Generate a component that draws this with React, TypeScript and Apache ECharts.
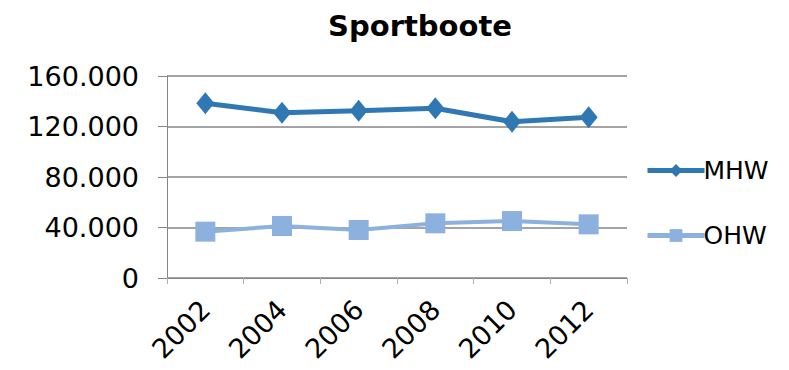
import React, { useEffect, useRef } from "react";
import * as echarts from "echarts";

const years = ["2002", "2004", "2006", "2008", "2010", "2012"];
const mhw = [138400, 130900, 132500, 134400, 123800, 127300];
const ohw = [36700, 41200, 38000, 43300, 45100, 42500];
const yTicks = { min: 0, max: 160000, interval: 40000 };

const FONT = "'DejaVu Sans', Verdana, sans-serif";
const MHW_COLOR = "#2f78b3";
const OHW_COLOR = "#8db1de";

const fmt = (v: number) =>
  v === 0 ? "0" : String(v).replace(/\B(?=(\d{3})+(?!\d))/g, ".");

export default function App() {
  const ref = useRef<HTMLDivElement>(null);

  useEffect(() => {
    if (!ref.current) return;
    const chart = echarts.init(ref.current, undefined, { renderer: "svg" });
    chart.setOption({
      animation: false,
      backgroundColor: "#ffffff",
      title: {
        text: "Sportboote",
        left: 415,
        top: 6,
        textAlign: "center",
        textStyle: { fontFamily: FONT, fontWeight: "bold", fontSize: 29, color: "#000" },
      },
      grid: { left: 167, right: 162, top: 76, bottom: 92, containLabel: false },
      legend: {
        orient: "vertical",
        left: 640,
        top: 153,
        itemGap: 40,
        itemWidth: 57,
        itemHeight: 16,
        textStyle: { fontFamily: FONT, fontSize: 25, color: "#000", padding: [0, 0, 0, -6] },
        data: [
          { name: "MHW", lineStyle: { width: 5 } },
          { name: "OHW", lineStyle: { width: 5 } },
        ],
      },
      xAxis: {
        type: "category",
        data: years,
        boundaryGap: true,
        axisLine: { lineStyle: { color: "#868686", width: 1 } },
        axisTick: { show: true, interval: 0, length: 6, lineStyle: { color: "#b0b0b0" } },
        axisLabel: {
          rotate: 45,
          interval: 0,
          margin: 27,
          fontFamily: FONT,
          fontSize: 27,
          color: "#000",
        },
        splitLine: { show: false },
      },
      yAxis: {
        type: "value",
        min: yTicks.min,
        max: yTicks.max,
        interval: yTicks.interval,
        axisLine: { show: true, lineStyle: { color: "#868686", width: 1 } },
        axisTick: { show: true, length: 9, lineStyle: { color: "#868686" } },
        axisLabel: {
          margin: 28,
          fontFamily: FONT,
          fontSize: 27,
          color: "#000",
          formatter: (v: number) => fmt(v),
        },
        splitLine: { show: true, lineStyle: { color: "#868686", width: 1.5 } },
      },
      series: [
        {
          name: "MHW",
          type: "line",
          data: mhw,
          symbol: "diamond",
          symbolSize: [18, 22],
          lineStyle: { color: MHW_COLOR, width: 5 },
          itemStyle: { color: MHW_COLOR },
        },
        {
          name: "OHW",
          type: "line",
          data: ohw,
          symbol: "rect",
          symbolSize: 20,
          lineStyle: { color: OHW_COLOR, width: 4 },
          itemStyle: { color: OHW_COLOR },
        },
      ],
    });
    return () => chart.dispose();
  }, []);

  return (
    <div
      ref={ref}
      style={{ position: "fixed", left: 0, top: 0, width: 789, height: 370 }}
    />
  );
}
